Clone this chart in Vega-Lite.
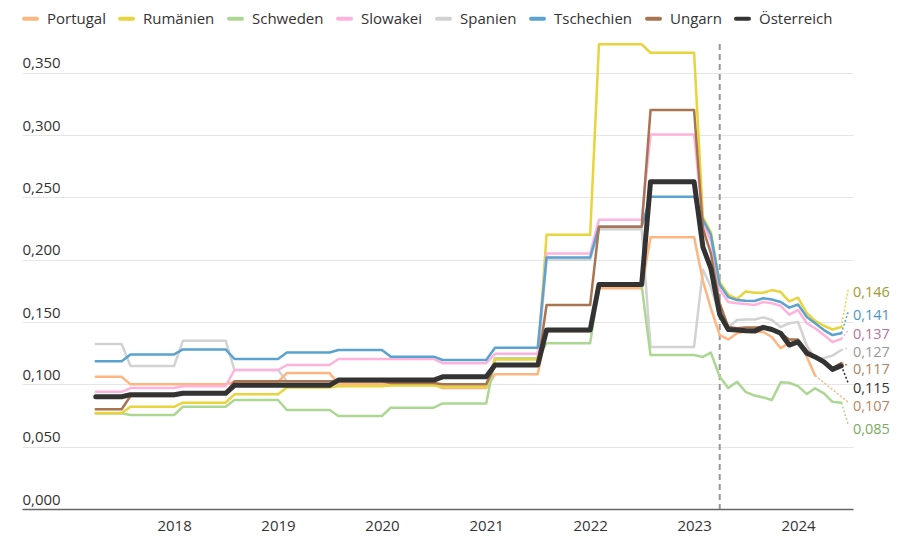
{
  "$schema": "https://vega.github.io/schema/vega-lite/v6.json",
  "width": 831,
  "height": 465,
  "autosize": {"type": "none"},
  "padding": {"left": 22, "top": 44, "right": 57, "bottom": 28},
  "background": "white",
  "config": {
    "font": "Open Sans",
    "view": {"stroke": null},
    "axis": {"labelFont": "Open Sans", "labelFontSize": 15, "labelColor": "#333333"}
  },
  "datasets": {
    "prices": [
      {"d":"2017-04-01","Portugal":0.106,"Rumänien":0.077,"Schweden":0.0767,"Slowakei":0.094,"Spanien":0.1323,"Tschechien":0.1185,"Ungarn":0.08,"Österreich":0.09},
      {"d":"2017-07-01","Portugal":0.106,"Rumänien":0.077,"Schweden":0.0767,"Slowakei":0.094,"Spanien":0.1323,"Tschechien":0.1185,"Ungarn":0.08,"Österreich":0.09},
      {"d":"2017-08-01","Portugal":0.1,"Rumänien":0.082,"Schweden":0.0754,"Slowakei":0.097,"Spanien":0.1147,"Tschechien":0.124,"Ungarn":0.0906,"Österreich":0.0917},
      {"d":"2018-01-01","Portugal":0.1,"Rumänien":0.082,"Schweden":0.0754,"Slowakei":0.097,"Spanien":0.1147,"Tschechien":0.124,"Ungarn":0.0906,"Österreich":0.0917},
      {"d":"2018-02-01","Portugal":0.1,"Rumänien":0.0853,"Schweden":0.082,"Slowakei":0.0985,"Spanien":0.135,"Tschechien":0.128,"Ungarn":0.0925,"Österreich":0.0928},
      {"d":"2018-07-01","Portugal":0.1,"Rumänien":0.0853,"Schweden":0.082,"Slowakei":0.0985,"Spanien":0.135,"Tschechien":0.128,"Ungarn":0.0925,"Österreich":0.0928},
      {"d":"2018-08-01","Portugal":0.102,"Rumänien":0.092,"Schweden":0.0874,"Slowakei":0.1115,"Spanien":0.1115,"Tschechien":0.1203,"Ungarn":0.1025,"Österreich":0.0992},
      {"d":"2019-01-01","Portugal":0.102,"Rumänien":0.092,"Schweden":0.0874,"Slowakei":0.1115,"Spanien":0.1115,"Tschechien":0.1203,"Ungarn":0.1025,"Österreich":0.0992},
      {"d":"2019-02-01","Portugal":0.109,"Rumänien":0.0975,"Schweden":0.0794,"Slowakei":0.1155,"Spanien":0.1025,"Tschechien":0.1255,"Ungarn":0.1025,"Österreich":0.0992},
      {"d":"2019-07-01","Portugal":0.109,"Rumänien":0.0975,"Schweden":0.0794,"Slowakei":0.1155,"Spanien":0.1025,"Tschechien":0.1255,"Ungarn":0.1025,"Österreich":0.0992},
      {"d":"2019-08-01","Portugal":0.1005,"Rumänien":0.0985,"Schweden":0.0746,"Slowakei":0.1203,"Spanien":0.099,"Tschechien":0.1275,"Ungarn":0.1025,"Österreich":0.1034},
      {"d":"2020-01-01","Portugal":0.1005,"Rumänien":0.0985,"Schweden":0.0746,"Slowakei":0.1203,"Spanien":0.099,"Tschechien":0.1275,"Ungarn":0.1025,"Österreich":0.1034},
      {"d":"2020-02-01","Portugal":0.1,"Rumänien":0.099,"Schweden":0.0813,"Slowakei":0.1203,"Spanien":0.1,"Tschechien":0.1222,"Ungarn":0.101,"Österreich":0.1034},
      {"d":"2020-07-01","Portugal":0.1,"Rumänien":0.099,"Schweden":0.0813,"Slowakei":0.1203,"Spanien":0.1,"Tschechien":0.1222,"Ungarn":0.101,"Österreich":0.1034},
      {"d":"2020-08-01","Portugal":0.097,"Rumänien":0.098,"Schweden":0.0847,"Slowakei":0.117,"Spanien":0.1,"Tschechien":0.1195,"Ungarn":0.1,"Österreich":0.106},
      {"d":"2021-01-01","Portugal":0.097,"Rumänien":0.098,"Schweden":0.0847,"Slowakei":0.117,"Spanien":0.1,"Tschechien":0.1195,"Ungarn":0.1,"Österreich":0.106},
      {"d":"2021-02-01","Portugal":0.108,"Rumänien":0.12,"Schweden":0.1208,"Slowakei":0.1245,"Spanien":0.121,"Tschechien":0.1294,"Ungarn":0.115,"Österreich":0.1155},
      {"d":"2021-07-01","Portugal":0.108,"Rumänien":0.12,"Schweden":0.1208,"Slowakei":0.1245,"Spanien":0.121,"Tschechien":0.1294,"Ungarn":0.115,"Österreich":0.1155},
      {"d":"2021-08-01","Portugal":0.1425,"Rumänien":0.22,"Schweden":0.133,"Slowakei":0.205,"Spanien":0.2,"Tschechien":0.2018,"Ungarn":0.1636,"Österreich":0.1435},
      {"d":"2022-01-01","Portugal":0.1425,"Rumänien":0.22,"Schweden":0.133,"Slowakei":0.205,"Spanien":0.2,"Tschechien":0.2018,"Ungarn":0.1636,"Österreich":0.1435},
      {"d":"2022-02-01","Portugal":0.177,"Rumänien":0.3727,"Schweden":0.179,"Slowakei":0.232,"Spanien":0.2245,"Tschechien":0.2264,"Ungarn":0.2264,"Österreich":0.18},
      {"d":"2022-07-01","Portugal":0.177,"Rumänien":0.3727,"Schweden":0.179,"Slowakei":0.232,"Spanien":0.2245,"Tschechien":0.2264,"Ungarn":0.2264,"Österreich":0.18},
      {"d":"2022-08-01","Portugal":0.218,"Rumänien":0.366,"Schweden":0.1235,"Slowakei":0.3005,"Spanien":0.13,"Tschechien":0.2505,"Ungarn":0.32,"Österreich":0.2625},
      {"d":"2023-01-01","Portugal":0.218,"Rumänien":0.366,"Schweden":0.1235,"Slowakei":0.3005,"Spanien":0.13,"Tschechien":0.2505,"Ungarn":0.32,"Österreich":0.2625},
      {"d":"2023-02-01","Portugal":0.183,"Rumänien":0.234,"Schweden":0.122,"Slowakei":0.23,"Spanien":0.192,"Tschechien":0.232,"Ungarn":0.225,"Österreich":0.21},
      {"d":"2023-03-01","Portugal":0.161,"Rumänien":0.222,"Schweden":0.1254,"Slowakei":0.215,"Spanien":0.178,"Tschechien":0.22,"Ungarn":0.205,"Österreich":0.193},
      {"d":"2023-04-01","Portugal":0.1395,"Rumänien":0.182,"Schweden":0.106,"Slowakei":0.176,"Spanien":0.154,"Tschechien":0.18,"Ungarn":0.165,"Österreich":0.156},
      {"d":"2023-05-01","Portugal":0.136,"Rumänien":0.172,"Schweden":0.097,"Slowakei":0.166,"Spanien":0.146,"Tschechien":0.17,"Ungarn":0.146,"Österreich":0.144},
      {"d":"2023-06-01","Portugal":0.141,"Rumänien":0.1685,"Schweden":0.102,"Slowakei":0.165,"Spanien":0.1516,"Tschechien":0.1676,"Ungarn":0.145,"Österreich":0.1435},
      {"d":"2023-07-01","Portugal":0.1425,"Rumänien":0.1745,"Schweden":0.094,"Slowakei":0.1645,"Spanien":0.152,"Tschechien":0.167,"Ungarn":0.1455,"Österreich":0.143},
      {"d":"2023-08-01","Portugal":0.142,"Rumänien":0.1735,"Schweden":0.091,"Slowakei":0.1636,"Spanien":0.152,"Tschechien":0.1668,"Ungarn":0.1455,"Österreich":0.1427},
      {"d":"2023-09-01","Portugal":0.142,"Rumänien":0.1735,"Schweden":0.0895,"Slowakei":0.166,"Spanien":0.1537,"Tschechien":0.169,"Ungarn":0.146,"Österreich":0.1457},
      {"d":"2023-10-01","Portugal":0.138,"Rumänien":0.1756,"Schweden":0.0874,"Slowakei":0.165,"Spanien":0.1516,"Tschechien":0.168,"Ungarn":0.145,"Österreich":0.144},
      {"d":"2023-11-01","Portugal":0.129,"Rumänien":0.174,"Schweden":0.1016,"Slowakei":0.163,"Spanien":0.146,"Tschechien":0.166,"Ungarn":0.141,"Österreich":0.141},
      {"d":"2023-12-01","Portugal":0.133,"Rumänien":0.1665,"Schweden":0.1013,"Slowakei":0.156,"Spanien":0.149,"Tschechien":0.1615,"Ungarn":0.136,"Österreich":0.1315},
      {"d":"2024-01-01","Portugal":0.1355,"Rumänien":0.1695,"Schweden":0.0986,"Slowakei":0.1596,"Spanien":0.15,"Tschechien":0.164,"Ungarn":0.136,"Österreich":0.134},
      {"d":"2024-02-01","Portugal":0.122,"Rumänien":0.157,"Schweden":0.0922,"Slowakei":0.149,"Spanien":0.131,"Tschechien":0.154,"Ungarn":0.127,"Österreich":0.125},
      {"d":"2024-03-01","Portugal":0.107,"Rumänien":0.151,"Schweden":0.0968,"Slowakei":0.145,"Spanien":0.121,"Tschechien":0.149,"Ungarn":0.122,"Österreich":0.122},
      {"d":"2024-04-01","Rumänien":0.147,"Schweden":0.0928,"Slowakei":0.1395,"Spanien":0.121,"Tschechien":0.1435,"Ungarn":0.118,"Österreich":0.118},
      {"d":"2024-05-01","Rumänien":0.144,"Schweden":0.086,"Slowakei":0.134,"Spanien":0.123,"Tschechien":0.1395,"Ungarn":0.113,"Österreich":0.112},
      {"d":"2024-06-01","Rumänien":0.146,"Schweden":0.0852,"Slowakei":0.1365,"Spanien":0.1275,"Tschechien":0.141,"Ungarn":0.117,"Österreich":0.115}
    ],
    "labels": [
      {"country":"Rumänien","label":"0,146","d0":"2024-06-01","v0":0.146,"d1":"2024-06-26","v1":0.1772},
      {"country":"Tschechien","label":"0,141","d0":"2024-06-01","v0":0.141,"d1":"2024-06-26","v1":0.1588},
      {"country":"Slowakei","label":"0,137","d0":"2024-06-01","v0":0.1365,"d1":"2024-06-26","v1":0.1435},
      {"country":"Spanien","label":"0,127","d0":"2024-06-01","v0":0.1275,"d1":"2024-06-26","v1":0.1295},
      {"country":"Ungarn","label":"0,117","d0":"2024-06-01","v0":0.117,"d1":"2024-06-26","v1":0.1152},
      {"country":"Österreich","label":"0,115","d0":"2024-06-01","v0":0.115,"d1":"2024-06-26","v1":0.1005},
      {"country":"Portugal","label":"0,107","d0":"2024-03-01","v0":0.107,"d1":"2024-06-26","v1":0.0855},
      {"country":"Schweden","label":"0,085","d0":"2024-06-01","v0":0.0852,"d1":"2024-06-26","v1":0.0672}
    ],
    "marker": [{"d": "2023-04-01"}]
  },
  "layer": [
    {
      "data": {"name": "marker"},
      "mark": {"type": "rule", "stroke": "#999999", "strokeWidth": 2, "strokeDash": [6, 4]},
      "encoding": {
        "x": {"field": "d", "type": "temporal", "title": null,
          "scale": {"type": "utc", "domain": [{"year": 2016, "month": 7, "date": 16, "utc": true}, {"year": 2024, "month": 7, "date": 12, "utc": true}]}}
      }
    },
    {
      "data": {"name": "prices"},
      "transform": [
        {"fold": ["Spanien", "Portugal", "Schweden", "Rumänien", "Slowakei", "Tschechien", "Ungarn", "Österreich"], "as": ["country", "value"]},
        {"filter": "isValid(datum.value)"}
      ],
      "mark": {"type": "line", "strokeJoin": "round", "strokeCap": "round"},
      "encoding": {
        "x": {"field": "d", "type": "temporal", "title": null,
          "scale": {"type": "utc", "domain": [{"year": 2016, "month": 7, "date": 16, "utc": true}, {"year": 2024, "month": 7, "date": 12, "utc": true}]},
          "axis": {
            "values": [
              {"year": 2018, "month": 1, "date": 1, "utc": true},
              {"year": 2019, "month": 1, "date": 1, "utc": true},
              {"year": 2020, "month": 1, "date": 1, "utc": true},
              {"year": 2021, "month": 1, "date": 1, "utc": true},
              {"year": 2022, "month": 1, "date": 1, "utc": true},
              {"year": 2023, "month": 1, "date": 1, "utc": true},
              {"year": 2024, "month": 1, "date": 1, "utc": true}
            ],
            "format": "%Y", "labelFlush": false, "labelOverlap": false,
            "ticks": false, "tickSize": 0, "labelPadding": 21, "labelBaseline": "alphabetic",
            "domain": true, "domainColor": "#666666", "domainWidth": 1.5, "grid": false
          }
        },
        "y": {"field": "value", "type": "quantitative", "title": null,
          "scale": {"domain": [0, 0.373], "nice": false, "zero": true},
          "axis": {
            "values": [0, 0.05, 0.1, 0.15, 0.2, 0.25, 0.3, 0.35],
            "labelExpr": "replace(format(datum.value, '.3f'), '.', ',')",
            "labelAlign": "left", "labelBaseline": "alphabetic", "labelOffset": -5, "labelPadding": 0,
            "labelFlush": false, "labelOverlap": false,
            "ticks": false, "tickSize": 0, "domain": false,
            "grid": true, "gridColor": "#e6e6e6", "gridWidth": 1
          }
        },
        "stroke": {"field": "country", "type": "nominal",
          "scale": {
            "domain": ["Portugal", "Rumänien", "Schweden", "Slowakei", "Spanien", "Tschechien", "Ungarn", "Österreich"],
            "range": ["#ffb57f", "#e8d43c", "#acd793", "#ffb3dc", "#d2d2d2", "#5aa2cf", "#a97452", "#333333"]
          },
          "legend": {
            "title": null, "orient": "top", "direction": "horizontal",
            "symbolType": "stroke", "symbolSize": 169, "symbolStrokeWidth": 4,
            "labelFont": "Open Sans", "labelFontSize": 15, "labelColor": "#333333",
            "columnPadding": 6, "labelOffset": 8, "offset": 16, "padding": 0,
            "encode": {"symbols": {"update": {"strokeCap": {"value": "round"}}}}
          }
        },
        "strokeWidth": {"condition": {"test": "datum.country === 'Österreich'", "value": 5}, "value": 2.5}
      }
    },
    {
      "data": {"name": "labels"},
      "mark": {"type": "rule", "strokeDash": [2, 2], "strokeWidth": 1.5},
      "encoding": {
        "x": {"field": "d0", "type": "temporal", "title": null,
          "scale": {"type": "utc", "domain": [{"year": 2016, "month": 7, "date": 16, "utc": true}, {"year": 2024, "month": 7, "date": 12, "utc": true}]}},
        "x2": {"field": "d1"},
        "y": {"field": "v0", "type": "quantitative", "title": null, "scale": {"domain": [0, 0.373], "nice": false, "zero": true}},
        "y2": {"field": "v1"},
        "stroke": {"field": "country", "type": "nominal",
          "scale": {
            "domain": ["Portugal", "Rumänien", "Schweden", "Slowakei", "Spanien", "Tschechien", "Ungarn", "Österreich"],
            "range": ["#ffb57f", "#e8d43c", "#acd793", "#ffb3dc", "#d2d2d2", "#5aa2cf", "#a97452", "#333333"]
          }
        }
      }
    },
    {
      "data": {"name": "labels"},
      "mark": {"type": "text", "align": "left", "baseline": "middle", "dx": 4.5, "dy": 5, "fontSize": 14.5, "font": "Open Sans"},
      "encoding": {
        "x": {"field": "d1", "type": "temporal", "title": null,
          "scale": {"type": "utc", "domain": [{"year": 2016, "month": 7, "date": 16, "utc": true}, {"year": 2024, "month": 7, "date": 12, "utc": true}]}},
        "y": {"field": "v1", "type": "quantitative", "title": null, "scale": {"domain": [0, 0.373], "nice": false, "zero": true}},
        "text": {"field": "label"},
        "fill": {"field": "country", "type": "nominal",
          "scale": {
            "domain": ["Portugal", "Rumänien", "Schweden", "Slowakei", "Spanien", "Tschechien", "Ungarn", "Österreich"],
            "range": ["#b8875e", "#a09b2c", "#7aab5c", "#b8729f", "#999999", "#4b97c4", "#b0845c", "#333333"]
          },
          "legend": null
        }
      }
    }
  ]
}
